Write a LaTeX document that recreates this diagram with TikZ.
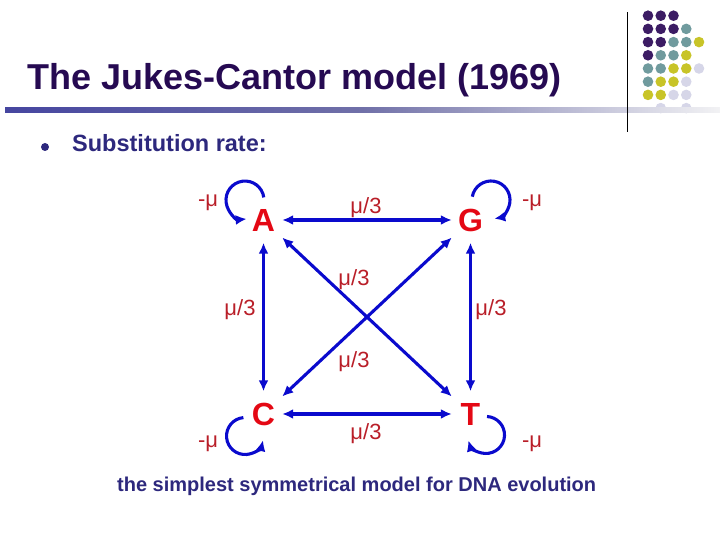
\documentclass[tikz,border=0pt]{standalone}
\usepackage{fontspec}
\setmainfont{Liberation Sans}
\usetikzlibrary{arrows.meta}
\definecolor{titlec}{RGB}{38,10,82}
\definecolor{navy}{RGB}{45,40,125}
\definecolor{lblred}{RGB}{185,30,40}
\definecolor{arrblue}{RGB}{10,10,205}
\definecolor{letred}{RGB}{228,8,20}
\definecolor{dP}{RGB}{60,28,100}
\definecolor{dT}{RGB}{112,155,158}
\definecolor{dY}{RGB}{200,196,40}
\definecolor{dL}{RGB}{214,214,232}
\definecolor{barL}{RGB}{70,70,160}
\definecolor{barM}{RGB}{112,112,168}
\definecolor{barR}{RGB}{242,242,244}
\begin{document}
\begin{tikzpicture}[x=1bp,y=1bp,
  lbl/.style={font=\fontsize{22bp}{24bp}\selectfont, text=lblred, inner sep=0, anchor=base},
  letter/.style={font=\bfseries\fontsize{32bp}{34bp}\selectfont, text=letred, inner sep=0,
                 minimum width=37bp, minimum height=45bp},
  conn/.style={draw=arrblue, line width=3.1bp, {Latex[length=11bp,width=10bp]}-{Latex[length=11bp,width=10bp]}},
  selfloop/.style={draw=arrblue, line width=3.1bp, -{Latex[length=11bp,width=10bp]}}]
\useasboundingbox (0,0) rectangle (720,540);
% decoration dots
\foreach \c/\r/\col in {0/0/dP,1/0/dP,2/0/dP,
  0/1/dP,1/1/dP,2/1/dP,3/1/dT,
  0/2/dP,1/2/dP,2/2/dT,3/2/dT,4/2/dY,
  0/3/dP,1/3/dT,2/3/dT,3/3/dY,
  0/4/dT,1/4/dT,2/4/dY,3/4/dY,4/4/dL,
  0/5/dT,1/5/dY,2/5/dY,3/5/dL,
  0/6/dY,1/6/dY,2/6/dL,3/6/dL,
  1/7/dL,3/7/dL}
  \fill[\col] ({648+12.75*\c},{524.3-13.2*\r}) circle[radius=5.3];
% header bar and vertical rule
\shade[left color=barL, right color=barR, middle color=barM] (5,427) rectangle (720,432);
\draw[black, line width=0.9bp] (627,408) -- (627,528);
% title
\node[anchor=base west, inner sep=0, text=titlec, font=\bfseries\fontsize{36bp}{40bp}\selectfont] (title) at (27,450) {The Jukes-Cantor model (1969)};
% bullet line
\fill[navy] (45,393) circle[radius=4];
\node[anchor=base west, inner sep=0, text=navy, font=\bfseries\fontsize{23.5bp}{26bp}\selectfont] (sub) at (72,388) {Substitution rate:};
% nucleotide nodes
\node[letter] (A) at (263.5,320) {A};
\node[letter] (G) at (470.5,320) {G};
\node[letter] (C) at (263.5,126) {C};
\node[letter] (T) at (470.5,126) {T};
% connectors
\draw[conn] (A) -- (G);
\draw[conn] (C) -- (T);
\draw[conn] (A) -- (C);
\draw[conn] (G) -- (T);
\draw[conn] (A) -- (T);
\draw[conn] (G) -- (C);
% self loops
\draw[selfloop] ([shift={(0.3,22.6)}]A.center) arc[start angle=8, end angle=275, radius=19];
\draw[selfloop] ([shift={(1.8,23.3)}]G.center) arc[start angle=170, end angle=-80, radius=19];
\draw[selfloop] ([shift={(-20.1,-3.6)}]C.center) arc[start angle=95, end angle=347, radius=18.5];
\draw[selfloop] ([shift={(16.5,-2.5)}]T.center) arc[start angle=87, end angle=-163, radius=18.5];
% rate labels
\node[lbl] (l1) at (366,326) {μ/3};
\node[lbl] (l2) at (354,254) {μ/3};
\node[lbl] (l3) at (354,172) {μ/3};
\node[lbl] (l4) at (240,224) {μ/3};
\node[lbl] (l5) at (491,224) {μ/3};
\node[lbl] (l6) at (366,100) {μ/3};
\node[lbl] (m1) at (208,333.6) {-μ};
\node[lbl] (m2) at (532,333.6) {-μ};
\node[lbl] (m3) at (208,92.5) {-μ};
\node[lbl] (m4) at (532,92.5) {-μ};
% caption
\node[anchor=base west, inner sep=0, text=navy, font=\bfseries\fontsize{20bp}{22bp}\selectfont] (cap) at (117,48) {the simplest symmetrical model for DNA evolution};
\end{tikzpicture}
\end{document}
